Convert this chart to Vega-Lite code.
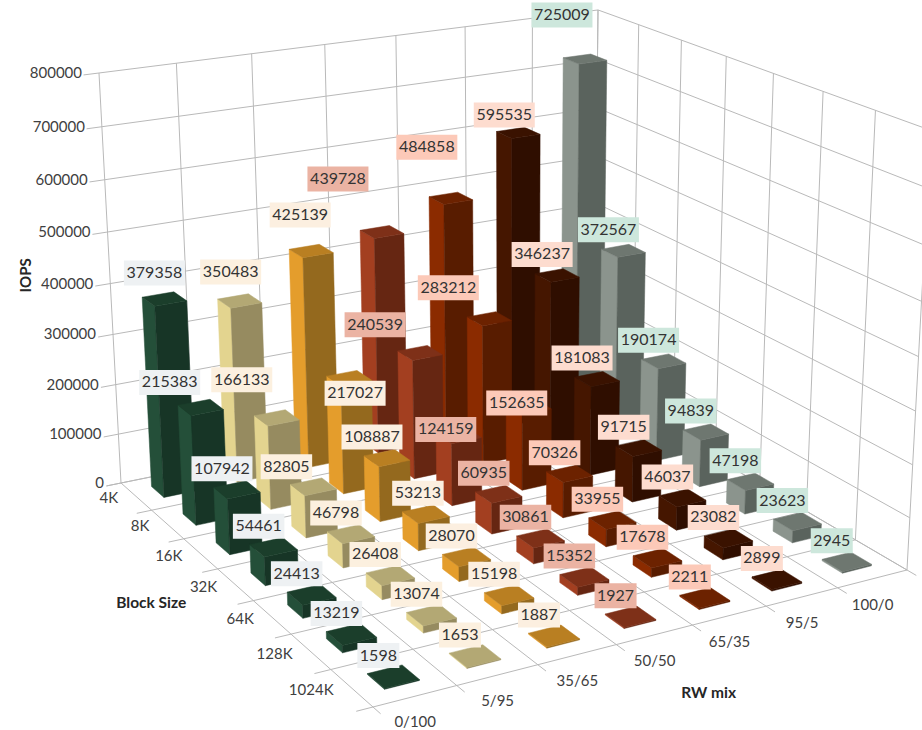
{
  "$schema": "https://vega.github.io/schema/vega-lite/v6.json",
  "width": 922,
  "height": 730,
  "padding": 0,
  "autosize": "none",
  "background": "white",
  "view": {"stroke": null},
  "params": [
    {"name": "xu", "value": 188.34},
    {"name": "xv", "value": 530.19},
    {"name": "xh", "value": -27.24},
    {"name": "x0", "value": 121},
    {"name": "yu", "value": 103.34},
    {"name": "yv", "value": -58.74},
    {"name": "yh", "value": -413.86},
    {"name": "y0", "value": 483},
    {"name": "wu", "value": -0.17066},
    {"name": "wv", "value": 0.09628},
    {"name": "wh", "value": -0.05289},
    {"name": "blocks", "value": ["4K", "8K", "16K", "32K", "64K", "128K", "1024K"]},
    {"name": "mixes", "value": ["0/100", "5/95", "35/65", "50/50", "65/35", "95/5", "100/0"]},
    {"name": "halfU", "value": 0.2},
    {"name": "halfV", "value": 0.21},
    {"name": "palette", "value": {
      "0/100": {"left": "#244f39", "right": "#173526", "top": "#1b3e2b"},
      "5/95": {"left": "#e3d48f", "right": "#968b60", "top": "#b3a874"},
      "35/65": {"left": "#e49d2c", "right": "#94691e", "top": "#b97f22"},
      "50/50": {"left": "#a33f20", "right": "#662612", "top": "#7e3018"},
      "65/35": {"left": "#8b2b00", "right": "#581c00", "top": "#6c2200"},
      "95/5": {"left": "#451600", "right": "#2f0e00", "top": "#3a1200"},
      "100/0": {"left": "#8b948d", "right": "#5a635d", "top": "#6e7770"}
    }},
    {"name": "calloutShift", "value": {
      "379358": [-10, -26], "350483": [-9, -29], "425139": [-11, -36], "439728": [-44, -53],
      "484858": [-24, -51], "725009": [-23, -44], "240539": [-45, -28], "283212": [-41, -31],
      "217027": [6, 15], "215383": [-31, -25], "166133": [-35, -38], "595535": [-14, -18],
      "53213": [-8, -21], "124159": [-13, -6], "152635": [-12, -4], "82805": [-27, -20]
    }}
  ],
  "datasets": {
    "bars": [
      {"block": "4K", "mix": "100/0", "iops": 725009}, {"block": "4K", "mix": "95/5", "iops": 595535}, {"block": "4K", "mix": "65/35", "iops": 484858}, {"block": "4K", "mix": "50/50", "iops": 439728}, {"block": "4K", "mix": "35/65", "iops": 425139}, {"block": "4K", "mix": "5/95", "iops": 350483}, {"block": "4K", "mix": "0/100", "iops": 379358},
      {"block": "8K", "mix": "100/0", "iops": 372567}, {"block": "8K", "mix": "95/5", "iops": 346237}, {"block": "8K", "mix": "65/35", "iops": 283212}, {"block": "8K", "mix": "50/50", "iops": 240539}, {"block": "8K", "mix": "35/65", "iops": 217027}, {"block": "8K", "mix": "5/95", "iops": 166133}, {"block": "8K", "mix": "0/100", "iops": 215383},
      {"block": "16K", "mix": "100/0", "iops": 190174}, {"block": "16K", "mix": "95/5", "iops": 181083}, {"block": "16K", "mix": "65/35", "iops": 152635}, {"block": "16K", "mix": "50/50", "iops": 124159}, {"block": "16K", "mix": "35/65", "iops": 108887}, {"block": "16K", "mix": "5/95", "iops": 82805}, {"block": "16K", "mix": "0/100", "iops": 107942},
      {"block": "32K", "mix": "100/0", "iops": 94839}, {"block": "32K", "mix": "95/5", "iops": 91715}, {"block": "32K", "mix": "65/35", "iops": 70326}, {"block": "32K", "mix": "50/50", "iops": 60935}, {"block": "32K", "mix": "35/65", "iops": 53213}, {"block": "32K", "mix": "5/95", "iops": 46798}, {"block": "32K", "mix": "0/100", "iops": 54461},
      {"block": "64K", "mix": "100/0", "iops": 47198}, {"block": "64K", "mix": "95/5", "iops": 46037}, {"block": "64K", "mix": "65/35", "iops": 33955}, {"block": "64K", "mix": "50/50", "iops": 30861}, {"block": "64K", "mix": "35/65", "iops": 28070}, {"block": "64K", "mix": "5/95", "iops": 26408}, {"block": "64K", "mix": "0/100", "iops": 24413},
      {"block": "128K", "mix": "100/0", "iops": 23623}, {"block": "128K", "mix": "95/5", "iops": 23082}, {"block": "128K", "mix": "65/35", "iops": 17678}, {"block": "128K", "mix": "50/50", "iops": 15352}, {"block": "128K", "mix": "35/65", "iops": 15198}, {"block": "128K", "mix": "5/95", "iops": 13074}, {"block": "128K", "mix": "0/100", "iops": 13219},
      {"block": "1024K", "mix": "100/0", "iops": 2945}, {"block": "1024K", "mix": "95/5", "iops": 2899}, {"block": "1024K", "mix": "65/35", "iops": 2211}, {"block": "1024K", "mix": "50/50", "iops": 1927}, {"block": "1024K", "mix": "35/65", "iops": 1887}, {"block": "1024K", "mix": "5/95", "iops": 1653}, {"block": "1024K", "mix": "0/100", "iops": 1598}
    ],
    "iopsTicks": [{"iops": 0}, {"iops": 100000}, {"iops": 200000}, {"iops": 300000}, {"iops": 400000}, {"iops": 500000}, {"iops": 600000}, {"iops": 700000}, {"iops": 800000}],
    "edges": [{"edge": 0}, {"edge": 1}, {"edge": 2}, {"edge": 3}, {"edge": 4}, {"edge": 5}, {"edge": 6}, {"edge": 7}],
    "blockNames": [{"block": "4K"}, {"block": "8K"}, {"block": "16K"}, {"block": "32K"}, {"block": "64K"}, {"block": "128K"}, {"block": "1024K"}],
    "mixNames": [{"mix": "0/100"}, {"mix": "5/95"}, {"mix": "35/65"}, {"mix": "50/50"}, {"mix": "65/35"}, {"mix": "95/5"}, {"mix": "100/0"}]
  },
  "encoding": {
    "x": {"field": "px", "type": "quantitative", "scale": {"domain": [0, 922], "nice": false, "zero": false}, "axis": null},
    "y": {"field": "py", "type": "quantitative", "scale": {"domain": [730, 0], "nice": false, "zero": false}, "axis": null}
  },
  "layer": [
    {
      "description": "horizontal rings on the two walls, with a small tick on the value axis",
      "data": {"name": "iopsTicks"},
      "transform": [
        {"calculate": "datum.iops/800000", "as": "hh"},
        {"calculate": "[[0,-0.028,datum.hh],[0,1,datum.hh],[1,1,datum.hh]]", "as": "path"},
        {"calculate": "[0,1,2]", "as": "idx"},
        {"flatten": ["path", "idx"]},
        {"calculate": "1+wu*datum.path[0]+wv*datum.path[1]+wh*datum.path[2]", "as": "w"},
        {"calculate": "(x0+xu*datum.path[0]+xv*datum.path[1]+xh*datum.path[2])/datum.w", "as": "px"},
        {"calculate": "(y0+yu*datum.path[0]+yv*datum.path[1]+yh*datum.path[2])/datum.w", "as": "py"}
      ],
      "mark": {"type": "line", "color": "#b9b9b9", "strokeWidth": 1},
      "encoding": {"detail": {"field": "iops"}, "order": {"field": "idx"}}
    },
    {
      "description": "mix boundaries: up the back-left wall and across the floor",
      "data": {"name": "edges"},
      "transform": [
        {"calculate": "datum.edge/7", "as": "e"},
        {"calculate": "[[0,datum.e,1],[0,datum.e,0],[1.025,datum.e,0]]", "as": "path"},
        {"calculate": "[0,1,2]", "as": "idx"},
        {"flatten": ["path", "idx"]},
        {"calculate": "1+wu*datum.path[0]+wv*datum.path[1]+wh*datum.path[2]", "as": "w"},
        {"calculate": "(x0+xu*datum.path[0]+xv*datum.path[1]+xh*datum.path[2])/datum.w", "as": "px"},
        {"calculate": "(y0+yu*datum.path[0]+yv*datum.path[1]+yh*datum.path[2])/datum.w", "as": "py"}
      ],
      "mark": {"type": "line", "color": "#b9b9b9", "strokeWidth": 1},
      "encoding": {"detail": {"field": "edge"}, "order": {"field": "idx"}}
    },
    {
      "description": "block boundaries: up the back-right wall and across the floor",
      "data": {"name": "edges"},
      "transform": [
        {"calculate": "datum.edge/7", "as": "e"},
        {"calculate": "[[datum.e,1,1],[datum.e,1,0],[datum.e,-0.028,0]]", "as": "path"},
        {"calculate": "[0,1,2]", "as": "idx"},
        {"flatten": ["path", "idx"]},
        {"calculate": "1+wu*datum.path[0]+wv*datum.path[1]+wh*datum.path[2]", "as": "w"},
        {"calculate": "(x0+xu*datum.path[0]+xv*datum.path[1]+xh*datum.path[2])/datum.w", "as": "px"},
        {"calculate": "(y0+yu*datum.path[0]+yv*datum.path[1]+yh*datum.path[2])/datum.w", "as": "py"}
      ],
      "mark": {"type": "line", "color": "#b9b9b9", "strokeWidth": 1},
      "encoding": {"detail": {"field": "edge"}, "order": {"field": "idx"}}
    },
    {
      "description": "3D columns, back to front, three filled faces each",
      "data": {"name": "bars"},
      "transform": [
        {"calculate": "indexof(blocks,datum.block)", "as": "bi"},
        {"calculate": "indexof(mixes,datum.mix)", "as": "mi"},
        {"calculate": "(datum.bi+0.5-halfU)/7", "as": "u0"},
        {"calculate": "(datum.bi+0.5+halfU)/7", "as": "u1"},
        {"calculate": "(datum.mi+0.5-halfV)/7", "as": "v0"},
        {"calculate": "(datum.mi+0.5+halfV)/7", "as": "v1"},
        {"calculate": "datum.iops/800000", "as": "top"},
        {"calculate": "['left','right','top']", "as": "face"},
        {"flatten": ["face"]},
        {"calculate": "[0,1,2,3]", "as": "corner"},
        {"flatten": ["corner"]},
        {"calculate": "datum.face==='right'?datum.u1:((datum.corner===0||datum.corner===3)?datum.u0:datum.u1)", "as": "u"},
        {"calculate": "datum.face==='left'?datum.v0:(datum.face==='right'?((datum.corner===0||datum.corner===3)?datum.v0:datum.v1):(datum.corner<2?datum.v0:datum.v1))", "as": "v"},
        {"calculate": "datum.face==='top'?datum.top:(datum.corner<2?0:datum.top)", "as": "hh"},
        {"calculate": "1+wu*datum.u+wv*datum.v+wh*datum.hh", "as": "w"},
        {"calculate": "(x0+xu*datum.u+xv*datum.v+xh*datum.hh)/datum.w", "as": "px"},
        {"calculate": "(y0+yu*datum.u+yv*datum.v+yh*datum.hh)/datum.w", "as": "py"},
        {"calculate": "palette[datum.mix][datum.face]", "as": "shade"},
        {"calculate": "datum.block+'|'+datum.mix+'|'+datum.face", "as": "faceId"}
      ],
      "mark": {"type": "line", "interpolate": "linear-closed", "strokeWidth": 0.5},
      "encoding": {
        "detail": {"field": "faceId"},
        "order": {"field": "corner"},
        "fill": {"field": "shade", "type": "nominal", "scale": null},
        "stroke": {"field": "shade", "type": "nominal", "scale": null}
      }
    },
    {
      "description": "value label plates",
      "data": {"name": "bars"},
      "transform": [
        {"calculate": "(indexof(blocks,datum.block)+0.5)/7", "as": "u"},
        {"calculate": "(indexof(mixes,datum.mix)+0.5)/7", "as": "v"},
        {"calculate": "datum.iops/800000", "as": "hh"},
        {"calculate": "1+wu*datum.u+wv*datum.v+wh*datum.hh", "as": "w"},
        {"calculate": "calloutShift[''+datum.iops]||[-15,-21]", "as": "shift"},
        {"calculate": "(x0+xu*datum.u+xv*datum.v+xh*datum.hh)/datum.w+datum.shift[0]", "as": "lx"},
        {"calculate": "(y0+yu*datum.u+yv*datum.v+yh*datum.hh)/datum.w+datum.shift[1]", "as": "ly"},
        {"calculate": "(9.5*length(''+datum.iops)+4)/2", "as": "halfW"},
        {"calculate": "datum.lx-datum.halfW", "as": "px"},
        {"calculate": "datum.lx+datum.halfW", "as": "px2"},
        {"calculate": "datum.ly-12.5", "as": "py"},
        {"calculate": "datum.ly+12.5", "as": "py2"}
      ],
      "mark": {"type": "rect"},
      "encoding": {
        "x2": {"field": "px2"},
        "y2": {"field": "py2"},
        "fill": {
          "field": "mix",
          "type": "nominal",
          "legend": null,
          "scale": {
            "domain": ["0/100", "5/95", "35/65", "50/50", "65/35", "95/5", "100/0"],
            "range": ["#eef1f3", "#fcf0df", "#fcefe0", "#ebb3a3", "#fcc9b8", "#fddccf", "#cde7dc"]
          }
        }
      }
    },
    {
      "description": "value label text",
      "data": {"name": "bars"},
      "transform": [
        {"calculate": "(indexof(blocks,datum.block)+0.5)/7", "as": "u"},
        {"calculate": "(indexof(mixes,datum.mix)+0.5)/7", "as": "v"},
        {"calculate": "datum.iops/800000", "as": "hh"},
        {"calculate": "1+wu*datum.u+wv*datum.v+wh*datum.hh", "as": "w"},
        {"calculate": "calloutShift[''+datum.iops]||[-15,-21]", "as": "shift"},
        {"calculate": "(x0+xu*datum.u+xv*datum.v+xh*datum.hh)/datum.w+datum.shift[0]", "as": "px"},
        {"calculate": "(y0+yu*datum.u+yv*datum.v+yh*datum.hh)/datum.w+datum.shift[1]", "as": "py"}
      ],
      "mark": {"type": "text", "font": "Lato", "fontSize": 16, "color": "#333333", "align": "center", "baseline": "middle"},
      "encoding": {"text": {"field": "iops", "type": "quantitative", "format": "d"}}
    },
    {
      "description": "IOPS tick labels",
      "data": {"name": "iopsTicks"},
      "transform": [
        {"calculate": "datum.iops/800000", "as": "hh"},
        {"calculate": "1+wh*datum.hh", "as": "w"},
        {"calculate": "(x0+xh*datum.hh)/datum.w", "as": "px"},
        {"calculate": "(y0+yh*datum.hh)/datum.w", "as": "py"}
      ],
      "mark": {"type": "text", "font": "Lato", "fontSize": 15, "color": "#404040", "align": "right", "baseline": "middle", "dx": -17},
      "encoding": {"text": {"field": "iops", "type": "quantitative", "format": "d"}}
    },
    {
      "description": "block size category labels",
      "data": {"name": "blockNames"},
      "transform": [
        {"calculate": "(indexof(blocks,datum.block)+0.5)/7", "as": "u"},
        {"calculate": "1+wu*datum.u", "as": "w"},
        {"calculate": "(x0+xu*datum.u)/datum.w", "as": "px"},
        {"calculate": "(y0+yu*datum.u)/datum.w", "as": "py"}
      ],
      "mark": {"type": "text", "font": "Lato", "fontSize": 15, "color": "#404040", "align": "right", "baseline": "middle", "dx": -18, "dy": 2},
      "encoding": {"text": {"field": "block"}}
    },
    {
      "description": "RW mix category labels",
      "data": {"name": "mixNames"},
      "transform": [
        {"calculate": "(indexof(mixes,datum.mix)+0.5)/7", "as": "v"},
        {"calculate": "1+wu+wv*datum.v", "as": "w"},
        {"calculate": "(x0+xu+xv*datum.v)/datum.w", "as": "px"},
        {"calculate": "(y0+yu+yv*datum.v)/datum.w", "as": "py"}
      ],
      "mark": {"type": "text", "font": "Lato", "fontSize": 15, "color": "#404040", "align": "center", "baseline": "middle", "dy": 26},
      "encoding": {"text": {"field": "mix"}}
    },
    {
      "description": "value axis title",
      "data": {"values": [{"name": "IOPS"}]},
      "transform": [
        {"calculate": "1+wh*0.52", "as": "w"},
        {"calculate": "(x0+xh*0.52)/datum.w", "as": "px"},
        {"calculate": "(y0+yh*0.52)/datum.w", "as": "py"}
      ],
      "mark": {"type": "text", "font": "Lato", "fontSize": 15, "fontWeight": "bold", "color": "#262626", "angle": 270, "align": "center", "baseline": "middle", "dy": -84},
      "encoding": {"text": {"field": "name"}}
    },
    {
      "description": "block size axis title",
      "data": {"values": [{"name": "Block Size"}]},
      "transform": [
        {"calculate": "1+wu*0.5", "as": "w"},
        {"calculate": "(x0+xu*0.5)/datum.w", "as": "px"},
        {"calculate": "(y0+yu*0.5)/datum.w", "as": "py"}
      ],
      "mark": {"type": "text", "font": "Lato", "fontSize": 15.5, "fontWeight": "bold", "color": "#262626", "align": "center", "baseline": "middle", "dx": -84, "dy": 18},
      "encoding": {"text": {"field": "name"}}
    },
    {
      "description": "RW mix axis title",
      "data": {"values": [{"name": "RW mix"}]},
      "transform": [
        {"calculate": "1+wu+wv*0.5", "as": "w"},
        {"calculate": "(x0+xu+xv*0.5)/datum.w", "as": "px"},
        {"calculate": "(y0+yu+yv*0.5)/datum.w", "as": "py"}
      ],
      "mark": {"type": "text", "font": "Lato", "fontSize": 15.5, "fontWeight": "bold", "color": "#262626", "align": "center", "baseline": "middle", "dx": 54, "dy": 58},
      "encoding": {"text": {"field": "name"}}
    }
  ]
}
